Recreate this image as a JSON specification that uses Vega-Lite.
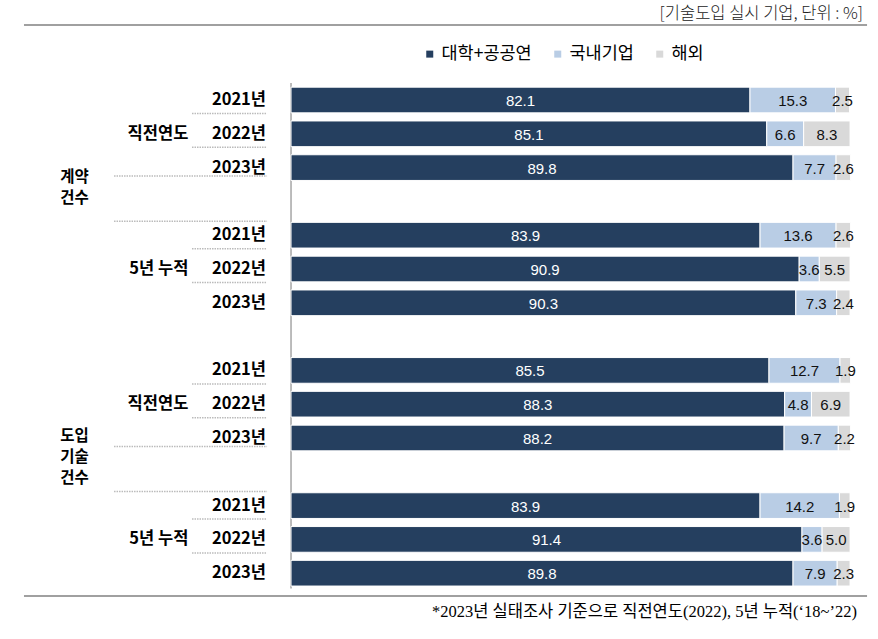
{
  "$schema": "https://vega.github.io/schema/vega-lite/v6.json",
  "width": 878,
  "height": 639,
  "padding": 0,
  "autosize": {"type": "none"},
  "background": "white",
  "config": {"view": {"stroke": null}},
  "data": {"values": [
    {"slot": 0, "major": "계약\n건수", "sub": "직전연도", "year": "2021년", "cat": "대학+공공연", "value": 82.1},
    {"slot": 0, "major": "계약\n건수", "sub": "직전연도", "year": "2021년", "cat": "국내기업", "value": 15.3},
    {"slot": 0, "major": "계약\n건수", "sub": "직전연도", "year": "2021년", "cat": "해외", "value": 2.5},
    {"slot": 1, "major": "계약\n건수", "sub": "직전연도", "year": "2022년", "cat": "대학+공공연", "value": 85.1},
    {"slot": 1, "major": "계약\n건수", "sub": "직전연도", "year": "2022년", "cat": "국내기업", "value": 6.6},
    {"slot": 1, "major": "계약\n건수", "sub": "직전연도", "year": "2022년", "cat": "해외", "value": 8.3},
    {"slot": 2, "major": "계약\n건수", "sub": "직전연도", "year": "2023년", "cat": "대학+공공연", "value": 89.8},
    {"slot": 2, "major": "계약\n건수", "sub": "직전연도", "year": "2023년", "cat": "국내기업", "value": 7.7},
    {"slot": 2, "major": "계약\n건수", "sub": "직전연도", "year": "2023년", "cat": "해외", "value": 2.6},
    {"slot": 4, "major": "계약\n건수", "sub": "5년 누적", "year": "2021년", "cat": "대학+공공연", "value": 83.9},
    {"slot": 4, "major": "계약\n건수", "sub": "5년 누적", "year": "2021년", "cat": "국내기업", "value": 13.6},
    {"slot": 4, "major": "계약\n건수", "sub": "5년 누적", "year": "2021년", "cat": "해외", "value": 2.6},
    {"slot": 5, "major": "계약\n건수", "sub": "5년 누적", "year": "2022년", "cat": "대학+공공연", "value": 90.9},
    {"slot": 5, "major": "계약\n건수", "sub": "5년 누적", "year": "2022년", "cat": "국내기업", "value": 3.6},
    {"slot": 5, "major": "계약\n건수", "sub": "5년 누적", "year": "2022년", "cat": "해외", "value": 5.5},
    {"slot": 6, "major": "계약\n건수", "sub": "5년 누적", "year": "2023년", "cat": "대학+공공연", "value": 90.3},
    {"slot": 6, "major": "계약\n건수", "sub": "5년 누적", "year": "2023년", "cat": "국내기업", "value": 7.3},
    {"slot": 6, "major": "계약\n건수", "sub": "5년 누적", "year": "2023년", "cat": "해외", "value": 2.4},
    {"slot": 8, "major": "도입\n기술\n건수", "sub": "직전연도", "year": "2021년", "cat": "대학+공공연", "value": 85.5},
    {"slot": 8, "major": "도입\n기술\n건수", "sub": "직전연도", "year": "2021년", "cat": "국내기업", "value": 12.7},
    {"slot": 8, "major": "도입\n기술\n건수", "sub": "직전연도", "year": "2021년", "cat": "해외", "value": 1.9},
    {"slot": 9, "major": "도입\n기술\n건수", "sub": "직전연도", "year": "2022년", "cat": "대학+공공연", "value": 88.3},
    {"slot": 9, "major": "도입\n기술\n건수", "sub": "직전연도", "year": "2022년", "cat": "국내기업", "value": 4.8},
    {"slot": 9, "major": "도입\n기술\n건수", "sub": "직전연도", "year": "2022년", "cat": "해외", "value": 6.9},
    {"slot": 10, "major": "도입\n기술\n건수", "sub": "직전연도", "year": "2023년", "cat": "대학+공공연", "value": 88.2},
    {"slot": 10, "major": "도입\n기술\n건수", "sub": "직전연도", "year": "2023년", "cat": "국내기업", "value": 9.7},
    {"slot": 10, "major": "도입\n기술\n건수", "sub": "직전연도", "year": "2023년", "cat": "해외", "value": 2.2},
    {"slot": 12, "major": "도입\n기술\n건수", "sub": "5년 누적", "year": "2021년", "cat": "대학+공공연", "value": 83.9},
    {"slot": 12, "major": "도입\n기술\n건수", "sub": "5년 누적", "year": "2021년", "cat": "국내기업", "value": 14.2},
    {"slot": 12, "major": "도입\n기술\n건수", "sub": "5년 누적", "year": "2021년", "cat": "해외", "value": 1.9},
    {"slot": 13, "major": "도입\n기술\n건수", "sub": "5년 누적", "year": "2022년", "cat": "대학+공공연", "value": 91.4},
    {"slot": 13, "major": "도입\n기술\n건수", "sub": "5년 누적", "year": "2022년", "cat": "국내기업", "value": 3.6},
    {"slot": 13, "major": "도입\n기술\n건수", "sub": "5년 누적", "year": "2022년", "cat": "해외", "value": 5.0},
    {"slot": 14, "major": "도입\n기술\n건수", "sub": "5년 누적", "year": "2023년", "cat": "대학+공공연", "value": 89.8},
    {"slot": 14, "major": "도입\n기술\n건수", "sub": "5년 누적", "year": "2023년", "cat": "국내기업", "value": 7.9},
    {"slot": 14, "major": "도입\n기술\n건수", "sub": "5년 누적", "year": "2023년", "cat": "해외", "value": 2.3}
  ]},
  "layer": [
    {
      "data": {"values": [{}]},
      "mark": {"type": "rule", "color": "#A0A0A0", "strokeWidth": 2},
      "encoding": {
        "x": {"datum": -47.77, "type": "quantitative", "scale": {"domain": [-52.06, 105], "nice": false, "zero": false}, "axis": null},
        "x2": {"datum": 103.04},
        "y": {"datum": -2.219, "type": "quantitative", "scale": {"domain": [-2.959, 15.947], "nice": false, "zero": false, "reverse": true}, "axis": null}
      }
    },
    {
      "data": {"values": [{"t": "[기술도입 실시 기업, 단위 : %]"}]},
      "mark": {"type": "text", "align": "right", "baseline": "middle", "font": "Noto Sans CJK KR", "fontSize": 16.5, "fontWeight": 300, "color": "#222"},
      "encoding": {
        "x": {"datum": 102.33, "type": "quantitative", "scale": {"domain": [-52.06, 105], "nice": false, "zero": false}, "axis": null},
        "y": {"datum": -2.545, "type": "quantitative", "scale": {"domain": [-2.959, 15.947], "nice": false, "zero": false, "reverse": true}, "axis": null},
        "text": {"field": "t"}
      }
    },
    {
      "data": {"values": [{}]},
      "mark": {"type": "rule", "color": "#A6A6A6", "strokeWidth": 1.5},
      "encoding": {
        "x": {"datum": 0, "type": "quantitative", "scale": {"domain": [-52.06, 105], "nice": false, "zero": false}, "axis": null},
        "y": {"datum": -0.5, "type": "quantitative", "scale": {"domain": [-2.959, 15.947], "nice": false, "zero": false, "reverse": true}, "axis": null},
        "y2": {"datum": 14.45}
      }
    },
    {
      "transform": [
        {"calculate": "indexof(['대학+공공연','국내기업','해외'], datum.cat)", "as": "ord"},
        {"stack": "value", "groupby": ["slot"], "sort": [{"field": "ord", "order": "ascending"}], "as": ["x0", "x1"]},
        {"calculate": "datum.slot - 0.38", "as": "ylo"},
        {"calculate": "datum.slot + 0.38", "as": "yhi"}
      ],
      "mark": {"type": "rect", "stroke": "white", "strokeWidth": 1},
      "encoding": {
        "x": {"field": "x0", "type": "quantitative", "scale": {"domain": [-52.06, 105], "nice": false, "zero": false}, "axis": null},
        "x2": {"field": "x1"},
        "y": {"field": "ylo", "type": "quantitative", "scale": {"domain": [-2.959, 15.947], "nice": false, "zero": false, "reverse": true}, "axis": null},
        "y2": {"field": "yhi"},
        "color": {
          "field": "cat", "type": "nominal",
          "scale": {"domain": ["대학+공공연", "국내기업", "해외"], "range": ["#253F5F", "#B9CDE5", "#D9D9D9"]},
          "legend": {"orient": "none", "legendX": 421, "legendY": 45, "direction": "horizontal", "title": null, "symbolType": "square", "symbolSize": 49, "symbolStrokeWidth": 0, "labelFont": "Noto Sans CJK KR", "labelFontSize": 17.5, "labelColor": "#000", "labelOffset": 3, "columnPadding": 17}
        }
      }
    },
    {
      "transform": [
        {"calculate": "indexof(['대학+공공연','국내기업','해외'], datum.cat)", "as": "ord"},
        {"stack": "value", "groupby": ["slot"], "sort": [{"field": "ord", "order": "ascending"}], "as": ["x0", "x1"]},
        {"calculate": "(datum.x0 + datum.x1) / 2", "as": "xm"}
      ],
      "mark": {"type": "text", "align": "center", "baseline": "middle", "font": "Liberation Sans", "fontSize": 15, "dy": 1},
      "encoding": {
        "x": {"field": "xm", "type": "quantitative", "scale": {"domain": [-52.06, 105], "nice": false, "zero": false}, "axis": null},
        "y": {"field": "slot", "type": "quantitative", "scale": {"domain": [-2.959, 15.947], "nice": false, "zero": false, "reverse": true}, "axis": null},
        "text": {"field": "value", "type": "quantitative", "format": ".1f"},
        "color": {"condition": {"test": "datum.cat === '대학+공공연'", "value": "white"}, "value": "#111"}
      }
    },
    {
      "transform": [{"filter": "datum.cat === '대학+공공연'"}],
      "mark": {"type": "text", "align": "right", "baseline": "middle", "font": "Noto Sans CJK KR", "fontWeight": "bold", "fontSize": 16.5, "color": "#000"},
      "encoding": {
        "x": {"datum": -4.47, "type": "quantitative", "scale": {"domain": [-52.06, 105], "nice": false, "zero": false}, "axis": null},
        "y": {"field": "slot", "type": "quantitative", "scale": {"domain": [-2.959, 15.947], "nice": false, "zero": false, "reverse": true}, "axis": null},
        "text": {"field": "year"}
      }
    },
    {
      "transform": [{"filter": "datum.cat === '대학+공공연' && datum.year === '2022년'"}],
      "mark": {"type": "text", "align": "right", "baseline": "middle", "font": "Noto Sans CJK KR", "fontWeight": "bold", "fontSize": 16.5, "color": "#000"},
      "encoding": {
        "x": {"datum": -18.37, "type": "quantitative", "scale": {"domain": [-52.06, 105], "nice": false, "zero": false}, "axis": null},
        "y": {"field": "slot", "type": "quantitative", "scale": {"domain": [-2.959, 15.947], "nice": false, "zero": false, "reverse": true}, "axis": null},
        "text": {"field": "sub"}
      }
    },
    {
      "transform": [
        {"filter": "datum.cat === '대학+공공연' && datum.year === '2023년' && datum.sub === '직전연도'"},
        {"calculate": "length(split(datum.major, '\\n'))", "as": "nlines"},
        {"calculate": "datum.slot + (19.5 - (datum.nlines - 1) * 10.5) / 33.8", "as": "ymajor"}
      ],
      "mark": {"type": "text", "align": "left", "baseline": "middle", "font": "Noto Sans CJK KR", "fontWeight": "bold", "fontSize": 15.5, "color": "#000", "lineBreak": "\n", "lineHeight": 21},
      "encoding": {
        "x": {"datum": -41.3, "type": "quantitative", "scale": {"domain": [-52.06, 105], "nice": false, "zero": false}, "axis": null},
        "y": {"field": "ymajor", "type": "quantitative", "scale": {"domain": [-2.959, 15.947], "nice": false, "zero": false, "reverse": true}, "axis": null},
        "text": {"field": "major"}
      }
    },
    {
      "transform": [{"filter": "datum.cat === '대학+공공연' && datum.year !== '2023년'"}],
      "mark": {"type": "rule", "color": "#BBBBBB", "strokeWidth": 1.5, "strokeDash": [1.5, 1], "yOffset": 13.5},
      "encoding": {
        "x": {"datum": -17.71, "type": "quantitative", "scale": {"domain": [-52.06, 105], "nice": false, "zero": false}, "axis": null},
        "x2": {"datum": -4.29},
        "y": {"field": "slot", "type": "quantitative", "scale": {"domain": [-2.959, 15.947], "nice": false, "zero": false, "reverse": true}, "axis": null}
      }
    },
    {
      "transform": [{"filter": "datum.cat === '대학+공공연' && datum.year === '2023년' && datum.sub === '직전연도'"}],
      "mark": {"type": "rule", "color": "#BBBBBB", "strokeWidth": 1.5, "strokeDash": [1.5, 1], "yOffset": 8.5},
      "encoding": {
        "x": {"datum": -31.66, "type": "quantitative", "scale": {"domain": [-52.06, 105], "nice": false, "zero": false}, "axis": null},
        "x2": {"datum": -4.29},
        "y": {"field": "slot", "type": "quantitative", "scale": {"domain": [-2.959, 15.947], "nice": false, "zero": false, "reverse": true}, "axis": null}
      }
    },
    {
      "transform": [{"filter": "datum.cat === '대학+공공연' && datum.year === '2021년' && datum.sub === '5년 누적'"}],
      "mark": {"type": "rule", "color": "#BBBBBB", "strokeWidth": 1.5, "strokeDash": [1.5, 1], "yOffset": -14},
      "encoding": {
        "x": {"datum": -31.66, "type": "quantitative", "scale": {"domain": [-52.06, 105], "nice": false, "zero": false}, "axis": null},
        "x2": {"datum": -4.29},
        "y": {"field": "slot", "type": "quantitative", "scale": {"domain": [-2.959, 15.947], "nice": false, "zero": false, "reverse": true}, "axis": null}
      }
    },
    {
      "data": {"values": [{}]},
      "mark": {"type": "rule", "color": "#A0A0A0", "strokeWidth": 2},
      "encoding": {
        "x": {"datum": -47.77, "type": "quantitative", "scale": {"domain": [-52.06, 105], "nice": false, "zero": false}, "axis": null},
        "x2": {"datum": 103.04},
        "y": {"datum": 14.675, "type": "quantitative", "scale": {"domain": [-2.959, 15.947], "nice": false, "zero": false, "reverse": true}, "axis": null}
      }
    },
    {
      "data": {"values": [{"t": "*2023년 실태조사 기준으로 직전연도(2022), 5년 누적(‘18~’22)"}]},
      "mark": {"type": "text", "align": "right", "baseline": "middle", "font": "Liberation Serif, Noto Sans CJK KR", "fontSize": 16.5, "color": "#000"},
      "encoding": {
        "x": {"datum": 101.25, "type": "quantitative", "scale": {"domain": [-52.06, 105], "nice": false, "zero": false}, "axis": null},
        "y": {"datum": 15.148, "type": "quantitative", "scale": {"domain": [-2.959, 15.947], "nice": false, "zero": false, "reverse": true}, "axis": null},
        "text": {"field": "t"}
      }
    }
  ]
}
